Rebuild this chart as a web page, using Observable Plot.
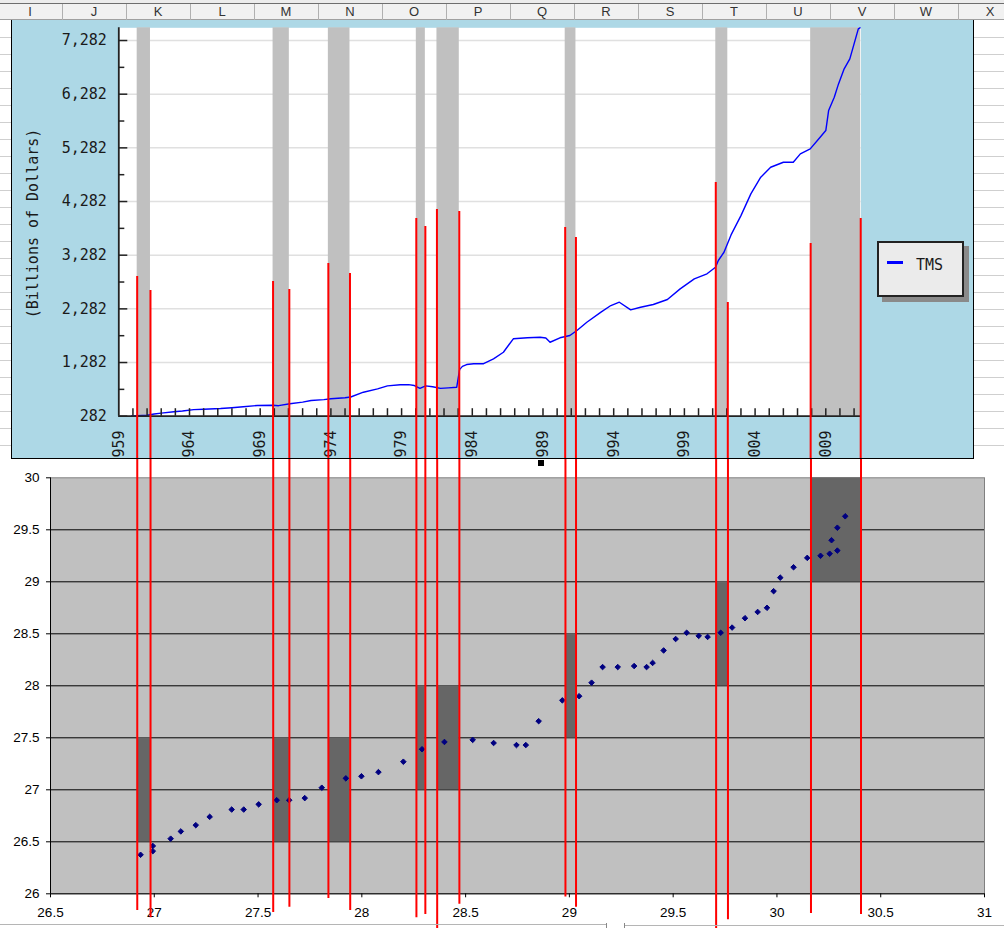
<!DOCTYPE html>
<html>
<head>
<meta charset="utf-8">
<script src="https://cdn.jsdelivr.net/npm/d3@7"></script>
<script src="https://cdn.jsdelivr.net/npm/@observablehq/plot@0.6"></script>
<style>
html,body{margin:0;padding:0;background:#fff;}
#page{position:relative;width:1004px;height:928px;overflow:hidden;background:#fff;font-family:"Liberation Sans",Arial,sans-serif;}
.abs{position:absolute;}
</style>
</head>
<body>
<div id="page"></div>
<script>
// ---------- data ----------
const columns = ["I","J","K","L","M","N","O","P","Q","R","S","T","U","V","W","X"];

const tmsYear = [1959.9,1960.3,1961.0,1961.5,1962.0,1962.9,1963.5,1964.3,1965.0,1966.2,1967.0,1967.8,1968.8,1969.9,1970.3,1971.1,1972.0,1972.6,1973.5,1974.0,1975.0,1975.4,1976.3,1977.3,1978.0,1978.9,1979.5,1979.9,1980.3,1980.7,1981.2,1981.75,1982.3,1982.9,1983.1,1983.3,1983.6,1984.1,1984.8,1985.5,1986.2,1986.9,1987.9,1988.8,1989.2,1989.5,1990.2,1990.9,1991.4,1992.1,1993.1,1993.8,1994.4,1995.2,1995.9,1996.8,1997.8,1998.7,1999.7,2000.6,2001.2,2001.4,2001.8,2002.3,2003.0,2003.7,2004.4,2005.1,2006.0,2006.7,2007.2,2007.9,2008.6,2009.0,2009.2,2009.6,2009.9,2010.3,2010.7,2011.0,2011.3,2011.42];
const tmsValue = [288,292,300,322,340,365,380,405,412,425,440,457,481,485,478,513,545,575,590,606,625,640,729,792,848,867,870,854,800,848,830,800,810,822,1150,1210,1245,1258,1260,1351,1474,1724,1743,1754,1740,1660,1743,1786,1879,2033,2220,2344,2406,2264,2313,2363,2456,2655,2842,2935,3058,3183,3337,3660,4020,4425,4735,4921,5014,5014,5170,5263,5480,5604,5977,6225,6474,6754,6940,7220,7500,7519];

// recession bands (top chart, years)
const recStartYear = [1960.30,1969.91,1973.82,1980.04,1981.50,1990.57,2001.22,2007.93];
const recEndYear   = [1961.24,1971.06,1975.35,1980.68,1983.08,1991.33,2002.07,2011.47];
// the same boundaries on the scatter's x axis
const recStartX = [26.918,27.573,27.839,28.263,28.363,28.981,29.707,30.164];
const recEndX   = [26.982,27.651,27.944,28.306,28.470,29.032,29.764,30.405];
// dark boxes in the scatter (y range)
const recLow  = [26.5,26.5,26.5,27,27,27.5,28,29];
const recHigh = [27.5,27.5,27.5,28,28,28.5,29,30];
// red marker lines: top end (billions of dollars), bottom end (scatter y units)
const redTopStart = [2885,2791,3127,3965,4133,3798,4636,3499];
const redTopEnd   = [2624,2642,2940,3816,4096,3611,2400,3965];
const redBottomStart = [25.84,25.82,25.955,25.77,25.65,25.97,25.65,25.81];
const redBottomEnd   = [25.77,25.87,25.84,25.80,25.90,25.87,25.75,25.80];

const scatterX = [26.934,26.993,26.993,27.079,27.128,27.20,27.267,27.373,27.431,27.503,27.590,27.650,27.725,27.807,27.923,27.998,28.08,28.20,28.29,28.398,28.534,28.635,28.745,28.79,28.852,28.966,29.047,29.107,29.160,29.233,29.312,29.372,29.401,29.454,29.512,29.565,29.623,29.666,29.729,29.784,29.846,29.907,29.952,29.984,30.016,30.080,30.146,30.210,30.254,30.291,30.263,30.291,30.329];
const scatterY = [26.375,26.46,26.41,26.53,26.60,26.66,26.74,26.81,26.81,26.86,26.90,26.90,26.92,27.02,27.11,27.13,27.17,27.27,27.39,27.46,27.48,27.45,27.43,27.43,27.66,27.86,27.90,28.03,28.18,28.18,28.19,28.18,28.22,28.34,28.45,28.51,28.48,28.47,28.51,28.56,28.65,28.71,28.75,28.91,29.04,29.14,29.23,29.25,29.27,29.30,29.40,29.52,29.63];

const yMajorTicks = [282,1282,2282,3282,4282,5282,6282,7282];
const yMinorTicks = [782,1782,2782,3782,4782,5782,6782];
const yearTicks = d3.range(1960, 2012);
const yearLabels = [1959,1964,1969,1974,1979,1984,1989,1994,1999,2004,2009];
const scXTicks = [26.5,27,27.5,28,28.5,29,29.5,30,30.5,31];
const scYTicks = [26,26.5,27,27.5,28,28.5,29,29.5,30];
const scGrid = [26.5,27,27.5,28,28.5,29,29.5];
const legendLabel = "TMS";
const yTitle = "(Billions of Dollars)";

// ---------- tables ----------
const tms = tmsYear.map((y, i) => ({year: y, value: tmsValue[i]}));
const recessions = recStartYear.map((s, i) => ({
  start: s, end: recEndYear[i], sx1: recStartX[i], sx2: recEndX[i], lo: recLow[i], hi: recHigh[i]
}));
const redLines = [];
recStartYear.forEach((s, i) => {
  redLines.push({year: s, sx: recStartX[i], top: redTopStart[i], bottom: redBottomStart[i]});
  redLines.push({year: recEndYear[i], sx: recEndX[i], top: redTopEnd[i], bottom: redBottomEnd[i]});
});
const points = scatterX.map((x, i) => ({x, y: scatterY[i]}));

const page = document.getElementById("page");
function box(css) { const d = document.createElement("div"); d.className = "abs"; d.style.cssText = css; page.appendChild(d); return d; }

// ---------- spreadsheet chrome ----------
box("left:0;top:0;width:1004px;height:3px;background:#ececec;");
box("left:0;top:3px;width:1004px;height:1px;background:#6e6e6e;");
box("left:0;top:4px;width:1004px;height:15px;background:#f1f1f1;");
box("left:0;top:19px;width:1004px;height:1px;background:#a0a0a0;");
columns.forEach((c, k) => {
  const left = -2 + 64 * k;
  if (k > 0) box(`left:${left}px;top:4px;width:1px;height:16px;background:#b0b0b0;`);
  const t = box(`left:${left}px;top:4px;width:64px;height:15px;line-height:15px;text-align:center;font-size:13px;color:#333;`);
  t.textContent = c;
});
for (let y = 37; y < 458; y += 17) {
  box(`left:0;top:${y}px;width:11px;height:1px;background:#cfcfcf;`);
  box(`left:974px;top:${y}px;width:30px;height:1px;background:#cfcfcf;`);
}

// ---------- top chart ----------
const topW = 961, topH = 438;
const tML = 106.3, tMR = 112.5, tMT = 7.3, tMB = 42.3;
const frameW = topW - tML - tMR, frameH = topH - tMT - tMB;
const axisColor = "#222";

const topChart = Plot.plot({
  width: topW, height: topH,
  marginLeft: tML, marginRight: tMR, marginTop: tMT, marginBottom: tMB,
  style: {background: "#add8e6", fontFamily: "'DejaVu Sans Mono', monospace", fontSize: "15px", color: "#1a1a1a", overflow: "hidden"},
  x: {domain: [1959, 2011.49], axis: null},
  y: {domain: [282, 7519], axis: null},
  marks: [
    Plot.frame({fill: "white", stroke: "none"}),
    Plot.ruleY(yMajorTicks.slice(1), {stroke: "#e0e0e0", strokeWidth: 1.5}),
    Plot.rect(recessions, {x1: "start", x2: "end", fill: "#c0c0c0"}),
    Plot.line(tms, {x: "year", y: "value", stroke: "#0000ff", strokeWidth: 1.4}),
    Plot.ruleX(yearTicks, {stroke: axisColor, strokeWidth: 1.5, insetTop: frameH - 7.5}),
    Plot.ruleY(yMajorTicks, {stroke: axisColor, strokeWidth: 1.5, insetRight: frameW - 9}),
    Plot.ruleY(yMinorTicks, {stroke: axisColor, strokeWidth: 1.5, insetRight: frameW - 6}),
    Plot.ruleX([1959], {stroke: axisColor, strokeWidth: 1.8}),
    Plot.ruleY([282], {stroke: axisColor, strokeWidth: 1.8}),
    Plot.text(yMajorTicks, {y: d => d, frameAnchor: "left", dx: -12, textAnchor: "end", text: d3.format(","), fill: "#1a1a1a"}),
    Plot.text(yearLabels, {x: d => d, frameAnchor: "bottom", dy: 14.3, rotate: -90, textAnchor: "end", lineAnchor: "middle", text: d => String(d), fill: "#1a1a1a"}),
    Plot.text([yTitle], {frameAnchor: "left", dx: -85.3, dy: 1.5, rotate: -90, textAnchor: "middle", lineAnchor: "middle", text: d => d, fill: "#1a1a1a"}),
    Plot.ruleX(redLines, {x: "year", y1: "top", y2: -4000, stroke: "#ff0000", strokeWidth: 2})
  ]
});
const topWrap = box("left:11px;top:20px;width:961px;height:438px;border-left:1px solid #000;border-right:1px solid #000;border-bottom:1px solid #000;overflow:hidden;z-index:2;");
topWrap.appendChild(topChart);

// legend
const leg = box("left:877px;top:241px;width:83px;height:52px;background:#ebebeb;border:2px solid #222;box-shadow:5px 5px 0 #8a8a8a;z-index:3;");
const legLine = document.createElement("div");
legLine.style.cssText = "position:absolute;left:8px;top:18px;width:16px;height:2.5px;background:#0000ff;";
leg.appendChild(legLine);
const legText = document.createElement("div");
legText.style.cssText = "position:absolute;left:37px;top:13px;font-family:'DejaVu Sans Mono',monospace;font-size:15px;color:#1a1a1a;line-height:18px;";
legText.textContent = legendLabel;
leg.appendChild(legText);

// ---------- bottom chart ----------
const botChart = Plot.plot({
  width: 1004, height: 469,
  marginLeft: 50, marginRight: 20, marginTop: 18.3, marginBottom: 34.7,
  style: {background: "white", fontFamily: "'Liberation Sans', Arial, sans-serif", fontSize: "13.5px", color: "black", overflow: "hidden"},
  x: {domain: [26.5, 31], axis: null},
  y: {domain: [26, 30], axis: null},
  marks: [
    Plot.frame({fill: "#c0c0c0", stroke: "#808080"}),
    Plot.ruleY(scGrid, {stroke: "black", strokeWidth: 1}),
    Plot.rect(recessions, {x1: "sx1", x2: "sx2", y1: "lo", y2: "hi", fill: "#666666"}),
    Plot.ruleX([26.5], {stroke: "black", strokeWidth: 1}),
    Plot.ruleY([26], {stroke: "black", strokeWidth: 1}),
    Plot.axisX({ticks: scXTicks, tickSize: 4, tickPadding: 10, tickFormat: d => String(d), label: null, stroke: "black", fill: "black"}),
    Plot.axisY({ticks: scYTicks, tickSize: 4, tickPadding: 7, tickFormat: d => String(d), label: null, stroke: "black", fill: "black"}),
    Plot.dot(points, {x: "x", y: "y", symbol: "diamond2", r: 2.5, fill: "#000080", stroke: "#000080", strokeWidth: 1}),
    Plot.ruleX(redLines, {x: "sx", y1: 31, y2: "bottom", stroke: "#ff0000", strokeWidth: 2})
  ]
});
const botWrap = box("left:0;top:459px;width:1004px;height:469px;overflow:hidden;z-index:1;");
botWrap.appendChild(botChart);

// chart selection handle and bottom bar
box("left:538px;top:460px;width:6px;height:6px;background:#000;z-index:4;");
box("left:0;top:924px;width:606px;height:1px;background:#b5b5b5;z-index:4;");
box("left:624px;top:925px;width:380px;height:1px;background:#b5b5b5;z-index:4;");
box("left:606px;top:923px;width:1px;height:5px;background:#888;z-index:4;");
box("left:624px;top:923px;width:1px;height:5px;background:#888;z-index:4;");
</script>
</body>
</html>
